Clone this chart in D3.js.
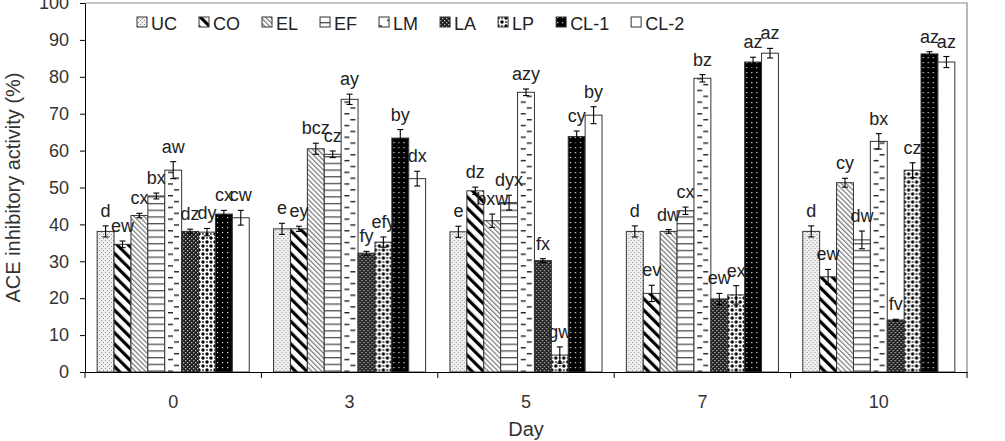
<!DOCTYPE html>
<html>
<head>
<meta charset="utf-8">
<script src="https://cdn.jsdelivr.net/npm/d3@7"></script>
<style>
    body { margin: 0; background: #fff; }
    svg { display: block; font-family: 'Liberation Sans', Arial, sans-serif; }
</style>
</head>
<body>
<div id="chart"></div>
<script>
const days = ['0', '3', '5', '7', '10'];
const treatments = ['UC', 'CO', 'EL', 'EF', 'LM', 'LA', 'LP', 'CL-1', 'CL-2'];

// one row per day, columns follow treatments
const meanByDay = [
    [38.1, 34.6, 42.4, 47.7, 54.7, 38.1, 37.9, 42.8, 41.8],
    [38.8, 38.8, 60.5, 59.0, 73.9, 32.2, 35.2, 63.4, 52.4],
    [38.0, 49.1, 41.0, 45.9, 75.8, 30.2, 4.6, 63.8, 69.6],
    [38.1, 21.3, 38.1, 43.7, 79.6, 19.8, 20.9, 84.0, 86.4],
    [38.1, 25.8, 51.3, 35.8, 62.5, 14.1, 54.7, 86.2, 84.0]
];
const errByDay = [
    [1.5, 0.9, 0.6, 0.8, 2.3, 0.6, 1.0, 1.0, 2.0],
    [1.5, 0.7, 1.5, 0.9, 1.4, 0.5, 1.4, 2.3, 2.0],
    [1.5, 1.0, 1.8, 2.0, 0.9, 0.5, 2.2, 1.5, 2.3],
    [1.5, 2.2, 0.5, 1.0, 1.0, 1.5, 2.5, 1.3, 1.3],
    [1.5, 2.0, 1.2, 2.4, 2.1, 0.2, 2.0, 0.6, 1.5]
];
const letterByDay = [
    ['d', 'ew', 'cx', 'bx', 'aw', 'dz', 'dy', 'cx', 'cw'],
    ['e', 'ey', 'bcz', 'cz', 'ay', 'fy', 'efy', 'by', 'dx'],
    ['e', 'dz', 'bxw', 'dyx', 'azy', 'fx', 'gw', 'cy', 'by'],
    ['d', 'ev', 'dw', 'cx', 'bz', 'ew', 'ex', 'az', 'az'],
    ['d', 'ew', 'cy', 'dw', 'bx', 'fv', 'cz', 'az', 'az']
];
const yTicks = [0, 10, 20, 30, 40, 50, 60, 70, 80, 90, 100];

const patternIds = {
    'UC': 'p-uc', 'CO': 'p-co', 'EL': 'p-el', 'EF': 'p-ef', 'LM': 'p-lm',
    'LA': 'p-la', 'LP': 'p-lp', 'CL-1': 'p-cl1', 'CL-2': null
};

class GroupedBars {
    constructor(containerId) {
        this.container = d3.select(containerId);
        this.width = 1005;
        this.height = 441;
        this.plot = { left: 85, right: 967, top: 3, bottom: 372 };
        this.init();
    }

    init() {
        this.svg = this.container.append('svg')
            .attr('width', this.width)
            .attr('height', this.height);

        this.makePatterns(this.svg.append('defs'));

        this.x0 = d3.scaleBand().domain(days)
            .range([this.plot.left, this.plot.right]).padding(0);
        this.x1 = d3.scaleBand().domain(treatments)
            .range([0, this.x0.bandwidth()])
            .paddingInner(0).paddingOuter(0.72);
        this.y = d3.scaleLinear().domain([0, 100])
            .range([this.plot.bottom, this.plot.top]);

        this.render();
    }

    makePatterns(defs) {
        // UC: light stipple
        let p = defs.append('pattern').attr('id', 'p-uc')
            .attr('width', 4).attr('height', 4).attr('patternUnits', 'userSpaceOnUse');
        p.append('rect').attr('width', 4).attr('height', 4).attr('fill', '#f0f0f0');
        p.append('rect').attr('x', 0).attr('y', 0).attr('width', 1).attr('height', 1).attr('fill', '#888');
        p.append('rect').attr('x', 2).attr('y', 2).attr('width', 1).attr('height', 1).attr('fill', '#888');

        // CO: wide black diagonal stripes
        p = defs.append('pattern').attr('id', 'p-co')
            .attr('width', 8).attr('height', 8).attr('patternUnits', 'userSpaceOnUse')
            .attr('patternTransform', 'rotate(-45)');
        p.append('rect').attr('width', 8).attr('height', 8).attr('fill', '#fff');
        p.append('rect').attr('x', 0).attr('width', 3.2).attr('height', 8).attr('fill', '#000');

        // EL: thin grey diagonals
        p = defs.append('pattern').attr('id', 'p-el')
            .attr('width', 3.5).attr('height', 3.5).attr('patternUnits', 'userSpaceOnUse')
            .attr('patternTransform', 'rotate(-45)');
        p.append('rect').attr('width', 3.5).attr('height', 3.5).attr('fill', '#fff');
        p.append('rect').attr('width', 1.2).attr('height', 3.5).attr('fill', '#777');

        // EF: horizontal lines
        p = defs.append('pattern').attr('id', 'p-ef')
            .attr('width', 8).attr('height', 6.7).attr('patternUnits', 'userSpaceOnUse');
        p.append('rect').attr('width', 8).attr('height', 6.7).attr('fill', '#fff');
        p.append('rect').attr('y', 2).attr('width', 8).attr('height', 1.2).attr('fill', '#444');

        // LM: small dashes
        p = defs.append('pattern').attr('id', 'p-lm')
            .attr('width', 16).attr('height', 11.7).attr('patternUnits', 'userSpaceOnUse');
        p.append('rect').attr('width', 16).attr('height', 11.7).attr('fill', '#fff');
        p.append('rect').attr('x', 9).attr('y', 2).attr('width', 5).attr('height', 1.4).attr('fill', '#222');
        p.append('rect').attr('x', 3).attr('y', 7.8).attr('width', 5).attr('height', 1.4).attr('fill', '#222');

        // LA: dark with fine light dots
        p = defs.append('pattern').attr('id', 'p-la')
            .attr('width', 4).attr('height', 4).attr('patternUnits', 'userSpaceOnUse');
        p.append('rect').attr('width', 4).attr('height', 4).attr('fill', '#1e1e1e');
        p.append('rect').attr('x', 0).attr('y', 0).attr('width', 1.3).attr('height', 1.3).attr('fill', '#bbb');
        p.append('rect').attr('x', 2).attr('y', 2).attr('width', 1.3).attr('height', 1.3).attr('fill', '#bbb');

        // LP: black blobs on white
        p = defs.append('pattern').attr('id', 'p-lp')
            .attr('width', 8).attr('height', 8).attr('patternUnits', 'userSpaceOnUse');
        p.append('rect').attr('width', 8).attr('height', 8).attr('fill', '#fff');
        p.append('circle').attr('cx', 2).attr('cy', 2).attr('r', 1.7).attr('fill', '#000');
        p.append('circle').attr('cx', 6).attr('cy', 6).attr('r', 1.7).attr('fill', '#000');
        p.append('circle').attr('cx', 6).attr('cy', 2).attr('r', 0.9).attr('fill', '#222');
        p.append('circle').attr('cx', 2).attr('cy', 6).attr('r', 0.9).attr('fill', '#222');

        // CL-1: black with white dots
        p = defs.append('pattern').attr('id', 'p-cl1')
            .attr('width', 5).attr('height', 5).attr('patternUnits', 'userSpaceOnUse');
        p.append('rect').attr('width', 5).attr('height', 5).attr('fill', '#000');
        p.append('rect').attr('x', 2).attr('y', 2).attr('width', 1.2).attr('height', 1.2).attr('fill', '#ddd');
    }

    fillFor(t) {
        return patternIds[t] ? `url(#${patternIds[t]})` : '#fff';
    }

    render() {
        const { x0, x1, y } = this;
        const P = this.plot;

        // frame: grey top/right border
        this.svg.append('path')
            .attr('d', `M${P.left},${P.top}H${P.right}V${P.bottom}`)
            .attr('fill', 'none').attr('stroke', '#8a8a8a').attr('stroke-width', 1.2);

        const rows = days.map((d, i) => treatments.map((t, j) => ({
            day: d, t: t,
            v: meanByDay[i][j], e: errByDay[i][j], lab: letterByDay[i][j]
        })));

        const groups = this.svg.selectAll('.day-group')
            .data(rows).enter()
            .append('g').attr('class', 'day-group')
            .attr('transform', (r, i) => `translate(${x0(days[i])},0)`);

        groups.selectAll('rect.bar')
            .data(r => r).enter()
            .append('rect').attr('class', 'bar')
            .attr('x', d => x1(d.t))
            .attr('y', d => y(d.v))
            .attr('width', x1.bandwidth())
            .attr('height', d => y(0) - y(d.v))
            .attr('fill', d => this.fillFor(d.t))
            .attr('stroke', '#333').attr('stroke-width', 1);

        const cap = 3;
        const mid = d => x1(d.t) + x1.bandwidth() / 2;
        const eb = groups.selectAll('g.err')
            .data(r => r).enter()
            .append('g').attr('class', 'err')
            .attr('stroke', '#000').attr('stroke-width', 1.1);
        eb.append('line')
            .attr('x1', mid).attr('x2', mid)
            .attr('y1', d => y(d.v - d.e)).attr('y2', d => y(d.v + d.e));
        eb.append('line')
            .attr('x1', d => mid(d) - cap).attr('x2', d => mid(d) + cap)
            .attr('y1', d => y(d.v + d.e)).attr('y2', d => y(d.v + d.e));
        eb.append('line')
            .attr('x1', d => mid(d) - cap).attr('x2', d => mid(d) + cap)
            .attr('y1', d => y(d.v - d.e)).attr('y2', d => y(d.v - d.e));

        groups.selectAll('text.sig')
            .data(r => r).enter()
            .append('text').attr('class', 'sig')
            .attr('x', mid)
            .attr('y', d => y(d.v + d.e) - 9)
            .attr('text-anchor', 'middle')
            .style('font-size', '18px').style('fill', '#222')
            .text(d => d.lab);

        // y axis
        const yAxisG = this.svg.append('g')
            .attr('transform', `translate(${P.left},0)`)
            .call(d3.axisLeft(y).tickValues(yTicks).tickSize(5).tickPadding(11).tickSizeOuter(0));
        yAxisG.selectAll('text').style('font-size', '18px').style('fill', '#333')
            .style('font-family', "'Liberation Sans', Arial, sans-serif");
        yAxisG.selectAll('line, path').attr('stroke', '#000');

        // x axis: labels centred, ticks on group boundaries
        const xAxisG = this.svg.append('g')
            .attr('transform', `translate(0,${P.bottom})`)
            .call(d3.axisBottom(x0).tickSize(0).tickPadding(23).tickSizeOuter(0));
        xAxisG.selectAll('text').style('font-size', '18px').style('fill', '#333')
            .style('font-family', "'Liberation Sans', Arial, sans-serif");
        xAxisG.select('.domain').attr('stroke', '#000');
        const edges = days.map(d => x0(d)).concat([x0.range()[1]]);
        xAxisG.selectAll('line.edge')
            .data(edges).enter()
            .append('line').attr('class', 'edge')
            .attr('x1', d => d).attr('x2', d => d)
            .attr('y1', 0).attr('y2', 6)
            .attr('stroke', '#000');

        this.svg.append('text')
            .attr('x', (P.left + P.right) / 2).attr('y', 436)
            .attr('text-anchor', 'middle')
            .style('font-size', '20px').style('fill', '#333')
            .text('Day');

        this.svg.append('text')
            .attr('transform', `translate(20,${(P.top + P.bottom) / 2}) rotate(-90)`)
            .attr('text-anchor', 'middle')
            .style('font-size', '20px').style('fill', '#333')
            .text('ACE inhibitory activity (%)');

        this.drawLegend();
    }

    drawLegend() {
        const legend = this.svg.append('g').attr('class', 'legend');
        let x = 137;
        treatments.forEach(t => {
            legend.append('rect')
                .attr('x', x).attr('y', 17)
                .attr('width', 10).attr('height', 10)
                .attr('fill', this.fillFor(t))
                .attr('stroke', '#333').attr('stroke-width', 1);
            const txt = legend.append('text')
                .attr('x', x + 14).attr('y', 29.5)
                .style('font-size', '18px').style('fill', '#222')
                .text(t);
            const tw = txt.node().getComputedTextLength();
            x += Math.max(57.5, tw + 36);
        });
    }
}

new GroupedBars('#chart');
</script>
</body>
</html>
